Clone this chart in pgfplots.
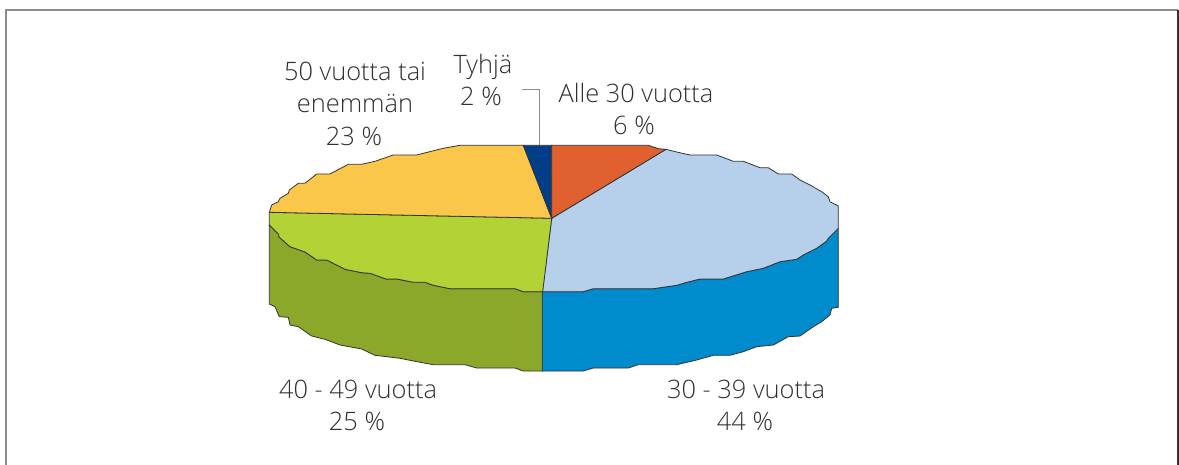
\documentclass[border=0pt]{standalone}
\usepackage{pgfplots}
\pgfplotsset{compat=1.18}
\usepackage{fontspec}
\setmainfont{Open Sans Light}
\definecolor{cYellow}{HTML}{FBC74B}
\definecolor{cNavy}{HTML}{003F87}
\definecolor{cOrange}{HTML}{E06030}
\definecolor{cLight}{HTML}{B6D0EB}
\definecolor{cBlue}{HTML}{008CCC}
\definecolor{cLime}{HTML}{B2D235}
\definecolor{cOlive}{HTML}{8CA82B}
\definecolor{cEdge}{HTML}{333333}
\definecolor{cFrame}{HTML}{8C8C8C}
\definecolor{cText}{HTML}{303030}
\tikzset{lab/.style={font=\fontsize{25.4}{26}\selectfont, text=cText, anchor=base, inner sep=0pt}}
\begin{document}
\begin{tikzpicture}
\path[use as bounding box] (0,0) rectangle (1179pt,465pt);
\begin{axis}[
  at={(0,0)}, anchor=south west,
  scale only axis, width=1179pt, height=465pt,
  xmin=0, xmax=1179, ymin=0, ymax=465, y dir=reverse,
  hide axis, clip=true,
]
% frame
\addplot[cFrame, line width=2pt] coordinates {(6,465) (6,10) (1178,10)};
\addplot[cEdge, line width=1.5pt] coordinates {(1178,10) (1178,465)};
% sides
\addplot[fill=cOlive, draw=cEdge, line width=0.8pt] coordinates {
(269.3,225)(278.3,234)(279.3,237.3)(290,246.7)(305,252)(316.7,260)(326.7,260)(345,269.3)(361.7,272.7)(370,273.3)(386,279)(396.7,279)(413.3,282.3)(425,282.3)(433.3,285.3)(450,288.7)(515,288.7)(523.3,291.7)(542.7,291.7)
(542.7,371)(523.3,371)(515,368)(476.7,368)(465,364.7)(433.3,364.7)(415,361.3)(400,358.3)(375,355.3)(361.7,349)(340,345)(325,339.3)(311.7,336)(298.3,326.7)(290,325)(288.3,317.3)(279.3,316.7)(275,306.7)(269.3,304)} --cycle;
\addplot[fill=cBlue, draw=cEdge, line width=0.8pt] coordinates {
(542.3,291.7)(583.3,291.7)(593.3,288.7)(653.3,288.7)(676.7,285.3)(686.7,282.3)(700,279)(723.3,279)(746.7,271.7)(763.3,268.3)(780,261.7)(796.7,259.3)(803.3,255)(816.7,248.3)(826.7,241)(828.3,238.3)(838.3,228.3)
(838.3,307.3)(831.7,308.3)(830,315)(821.7,321.7)(813.3,326.7)(800,336)(788.3,336.7)(773.3,345)(756.7,346.7)(743.3,351.7)(730,355.3)(713.3,355.3)(696.7,360)(676.7,364.7)(638.3,364.7)(628.3,368)(593.3,368)(583.3,371)(542.3,371)} --cycle;
% top slices
\addplot[fill=cLight, draw=cEdge, line width=0.8pt] coordinates {
(551.7,218.3)(666,149.3)(676.7,152)(690,155)(716.7,155)(733.3,161.3)(743.3,161.3)(760,167.7)(768.3,167.7)(778.3,174)(791.7,174)(800,180)(810,185)(821.7,191.7)(828.3,196.7)(830,201.7)(838.3,206)(838.3,228.3)(828.3,238.3)(826.7,241)(816.7,248.3)(803.3,255)(796.7,259.3)(780,261.7)(763.3,268.3)(746.7,271.7)(723.3,279)(700,279)(686.7,282.3)(676.7,285.3)(653.3,288.7)(593.3,288.7)(583.3,291.7)(542.3,291.7)} --cycle;
\addplot[fill=cLime, draw=cEdge, line width=0.8pt] coordinates {
(269.3,212.3)(551.7,218.3)(542.7,291.7)(523.3,291.7)(515,288.7)(450,288.7)(433.3,285.3)(425,282.3)(413.3,282.3)(396.7,279)(386,279)(370,273.3)(361.7,272.7)(345,269.3)(326.7,260)(316.7,260)(305,252)(290,246.7)(279.3,237.3)(278.3,234)(269.3,225)} --cycle;
\addplot[fill=cYellow, draw=cEdge, line width=0.8pt] coordinates {
(269.3,212.3)(271.7,205)(278.3,201.7)(280,198.3)(288.3,193.3)(289.3,190)(298.3,183.3)(305,183.3)(316.7,174)(330,174)(348.3,164.3)(361.7,164.3)(375,161.3)(393.3,155)(416.7,155)(443.3,148.3)(460,145.3)(523.3,145.3)(551.7,218.3)} --cycle;
\addplot[fill=cNavy, draw=cEdge, line width=0.8pt] coordinates {(523.3,145.3)(551.7,145.3)(551.7,218.3)} --cycle;
\addplot[fill=cOrange, draw=cEdge, line width=0.8pt] coordinates {(551.7,145.3)(648.3,145.3)(658.3,148.7)(666,149.3)(551.7,218.3)} --cycle;
% leader
\addplot[cFrame, line width=1.2pt] coordinates {(521.7,89.3)(539.3,89.3)(539.3,145)};
% labels
\node[lab] at (axis cs:355,81) {50 vuotta tai};
\node[lab] at (axis cs:355,113) {enemmän};
\node[lab] at (axis cs:354,146) {23 \%};
\node[lab] at (axis cs:483,74) {Tyhjä};
\node[lab] at (axis cs:481,106) {2 \%};
\node[lab] at (axis cs:636,103) {Alle 30 vuotta};
\node[lab] at (axis cs:634,135) {6 \%};
\node[lab] at (axis cs:746,398) {30 - 39 vuotta};
\node[lab] at (axis cs:745,430) {44 \%};
\node[lab] at (axis cs:358,398) {40 - 49 vuotta};
\node[lab] at (axis cs:357,430) {25 \%};
\end{axis}
\end{tikzpicture}
\end{document}
